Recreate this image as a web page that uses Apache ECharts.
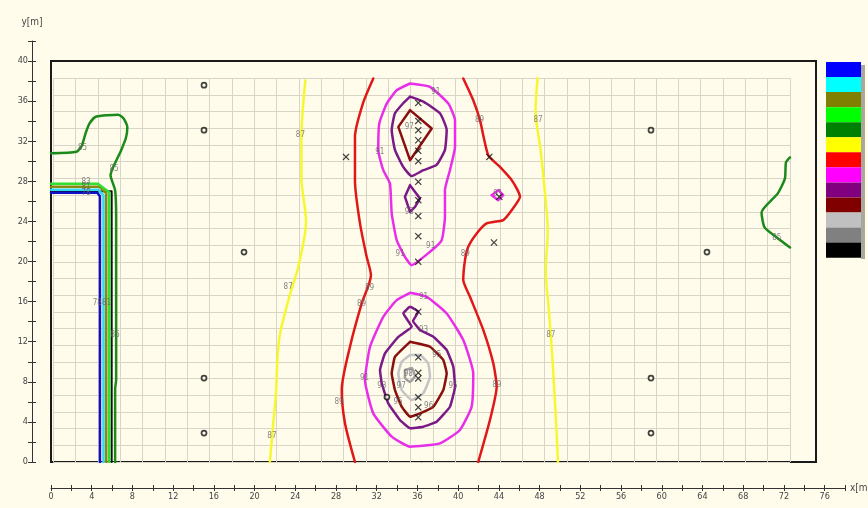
<!DOCTYPE html>
<html><head><meta charset="utf-8">
<script src="https://cdn.jsdelivr.net/npm/echarts@6/dist/echarts.min.js"></script>
<style>html,body{margin:0;padding:0;background:#fffcec}#c{width:868px;height:508px}</style>
</head><body><div id="c"></div>
<script>
// ---- data (metres) ----
const xTickLabels = [0,4,8,12,16,20,24,28,32,36,40,44,48,52,56,60,64,68,72,76];
const yTickLabels = [0,4,8,12,16,20,24,28,32,36,40];
const legendColors = ['#0000ff','#00ffff','#808000','#00ff00','#008000','#ffff00','#ff0000','#ff00ff','#800080','#800000','#c0c0c0','#808080','#000000'];

const building = [[0,27.0],[5.96,27.0],[5.96,0]];
const c75 = [[0,26.85],[4.55,26.85],[4.81,26.5],[4.81,0]];
const c78 = [[0,27.17],[4.65,27.17],[5.16,26.6],[5.16,0]];
const c81 = [[0,27.47],[4.75,27.47],[5.43,26.8],[5.43,0]];
const c83 = [[0,27.77],[4.6,27.77],[5.72,26.9],[5.72,0]];
const c85left = [[0,30.8],[2.5,30.95],[3.0,31.5],[3.4,32.8],[3.8,33.8],[4.4,34.45],[6.6,34.65],[7.15,34.25],[7.5,33.4],[7.35,32.3],[6.85,31.0],[5.85,28.6],[6.3,27.1],[6.4,24.3],[6.4,8.2],[6.3,7.3],[6.3,0]];
const c85right = [[72.6,30.4],[72.2,29.9],[72.1,28.3],[71.4,26.8],[69.8,24.9],[70.1,23.4],[71.3,22.4],[72.6,21.4]];
const c87left = [[24.99,38.08],[24.6,32.4],[24.6,28.4],[25.05,24.0],[24.3,19.5],[23.5,16.8],[22.5,12.8],[22.24,10.2],[22.1,6.85],[21.8,3.5],[21.5,0]];
const c87right = [[47.8,38.3],[47.6,35.1],[48.1,31.1],[48.5,27.1],[48.8,23.1],[48.6,19.1],[48.9,15.2],[49.2,11.2],[49.5,6.2],[49.7,2.2],[49.8,0]];
const c89left = [[31.66,38.26],[30.65,35.79],[29.86,32.43],[29.86,28.12],[30.35,23.83],[31.01,20.47],[31.43,18.64],[30.52,15.82],[29.37,11.5],[28.56,7.18],[28.88,3.86],[29.86,0]];
const c89right = [[40.5,38.26],[41.48,36.09],[42.14,34.1],[42.96,30.6],[44.11,29.44],[45.26,28.12],[46.07,26.45],[45.26,25.12],[44.43,24.13],[42.8,23.8],[41.82,22.8],[40.99,21.47],[40.67,20.14],[40.5,18.15],[41.16,16.48],[42.47,13.16],[43.45,9.84],[43.78,7.51],[43.12,4.19],[41.97,0]];
const c91upper = [[35.27,37.76],[37.23,37.42],[39.03,35.76],[39.69,34.1],[39.69,31.44],[39.19,29.11],[38.7,27.12],[38.7,24.46],[38.38,22.13],[37.23,20.97],[35.43,19.64],[34.77,20.47],[33.96,22.13],[33.47,24.8],[33.3,27.79],[32.64,29.11],[32.15,31.11],[32.25,33.77],[32.98,35.76],[33.96,37.09],[35.27,37.76]];
const c91small = [[43.29,26.62],[43.94,27.12],[44.43,26.62],[43.94,26.12],[43.29,26.62]];
const c91lower = [[35.27,16.88],[36.91,16.48],[38.87,14.82],[40.5,12.16],[41.48,8.84],[41.32,5.52],[40.17,3.19],[38.21,1.86],[35.27,1.53],[33.47,2.53],[31.66,4.85],[30.84,8.17],[31.34,11.5],[32.64,14.49],[33.96,16.15],[35.27,16.88]];
const c93upper = [[35.27,36.45],[36.58,35.95],[38.21,34.79],[38.87,33.13],[38.7,31.14],[37.88,29.64],[36.58,29.11],[35.43,28.52],[34.6,29.44],[33.79,31.14],[33.47,33.13],[33.79,34.79],[34.6,35.79],[35.27,36.45]];
const c93small = [[35.27,27.62],[36.25,26.29],[35.76,25.45],[35.27,24.95],[34.77,26.45],[35.27,27.62]];
const c93lower = [[36.25,13.16],[37.56,12.49],[38.87,11.17],[39.52,9.5],[39.69,7.51],[39.19,5.51],[37.89,4.02],[36.57,3.52],[35.27,3.36],[34.28,4.19],[33.13,5.85],[32.49,7.85],[32.32,9.17],[32.81,10.84],[34.12,12.49],[35.43,13.49],[34.61,14.83],[35.27,15.48],[36.08,14.99],[35.56,14.06],[36.25,13.16]];
const c95upper = [[35.27,35.1],[37.4,33.27],[35.27,30.11],[34.12,33.43],[35.27,35.1]];
const c95lower = [[35.27,11.99],[37.23,11.5],[38.54,10.17],[38.87,8.84],[38.54,7.18],[37.56,5.52],[36.25,4.85],[35.27,4.52],[34.45,5.52],[33.79,7.18],[33.47,8.84],[33.79,10.5],[35.27,11.99]];
const c97lower = [[35.27,10.67],[36.25,10.67],[37.06,9.84],[37.23,8.51],[36.57,6.85],[35.43,6.18],[34.45,7.18],[34.12,8.84],[34.45,10.0],[35.27,10.67]];
const c98lower = [[34.77,9.17],[35.46,9.37],[35.76,8.57],[35.27,7.98],[34.77,8.37],[34.77,9.17]];

const contourLabels = [
  [3.44,27.9,'83'],[3.44,27.4,'81'],[3.44,26.85,'78'],[4.55,15.9,'78'],[5.45,15.9,'81'],
  [3.1,31.3,'85'],[6.2,29.2,'85'],[6.3,12.7,'85'],[71.3,22.4,'85'],
  [24.5,32.6,'87'],[23.3,17.5,'87'],[21.7,2.6,'87'],[47.84,34.1,'87'],[49.1,12.7,'87'],
  [31.3,17.4,'89'],[30.5,15.8,'89'],[28.3,6.0,'89'],[42.1,34.1,'89'],[40.7,20.8,'89'],[43.8,7.7,'89'],
  [37.8,36.9,'91'],[32.3,30.9,'91'],[37.3,21.6,'91'],[34.3,20.8,'91'],[43.9,26.7,'91'],[36.6,16.5,'91'],[30.8,8.4,'91'],
  [35.2,24.9,'93'],[36.6,13.2,'93'],[32.5,7.6,'93'],
  [39.5,7.6,'95'],[37.9,10.7,'95'],[34.1,6.0,'95'],[37.1,5.6,'96'],
  [35.2,33.4,'97'],[34.4,7.6,'97'],[35.1,8.8,'98']
];
const circlePoints = [[15.03,37.59],[15.03,33.1],[18.96,20.94],[15.03,8.37],[15.03,2.89],[33.0,6.48],[58.94,33.1],[64.44,20.94],[58.94,8.37],[58.94,2.89]];
const crossPoints = [[28.98,30.44],[36.08,35.82],[36.08,34.03],[36.08,33.1],[36.08,32.1],[36.08,31.04],[36.08,30.01],[36.08,27.95],[36.08,26.12],[36.08,24.53],[36.08,22.53],[36.08,19.97],[43.06,30.44],[44.04,26.45],[43.52,21.9],[36.08,14.99],[36.08,10.44],[36.08,8.9],[36.08,8.34],[36.08,6.45],[36.08,5.45],[36.08,4.46]];

// inner calculation grid: number of cells
const gridCols = 33, gridRows = 23;

// ---- chart ----
const lineDefs = [
  {d: building, c:'#111111', w:2, s:false},
  {d: c75, c:'#1010c8', w:2.5, s:false},
  {d: c78, c:'#30d8f0', w:2.5, s:false},
  {d: c81, c:'#8a8a10', w:2.5, s:false},
  {d: c83, c:'#30e030', w:2.5, s:false},
  {d: c85left, c:'#1a8a1a', w:2.5, s:0.2},
  {d: c85right, c:'#1a8a1a', w:2.5, s:0.2},
  {d: c87left, c:'#f7f730', w:2.5, s:0.3},
  {d: c87right, c:'#f7f730', w:2.5, s:0.3},
  {d: c89left, c:'#e01818', w:2.5, s:0.25},
  {d: c89right, c:'#e01818', w:2.5, s:0.2},
  {d: c91upper, c:'#e82ee8', w:2.5, s:0.15},
  {d: c91small, c:'#e82ee8', w:2.5, s:false},
  {d: c91lower, c:'#e82ee8', w:2.5, s:0.15},
  {d: c93upper, c:'#7a1a86', w:2.5, s:0.15},
  {d: c93small, c:'#7a1a86', w:2.5, s:false},
  {d: c93lower, c:'#7a1a86', w:2.5, s:0.1},
  {d: c95upper, c:'#8a1010', w:2.5, s:false},
  {d: c95lower, c:'#8a1010', w:2.5, s:0.1},
  {d: c97lower, c:'#c4c4c4', w:2.5, s:0.1},
  {d: c98lower, c:'#a0a0a0', w:2.5, s:0.1}
];

const series = lineDefs.map(l => ({
  type:'line', xAxisIndex:0, yAxisIndex:0, data:l.d, showSymbol:false, symbol:'none',
  smooth:l.s, silent:true, z:3,
  lineStyle:{color:l.c, width:l.w, cap:'round', join:'round'}
}));
series.push({
  type:'scatter', xAxisIndex:0, yAxisIndex:0, data:contourLabels, symbolSize:0, silent:true, z:4,
  label:{show:true, position:'inside', formatter:p=>p.value[2], fontSize:8,
         fontFamily:"'Liberation Sans Narrow','DejaVu Sans Condensed',Arial,sans-serif", color:'#666'}
});
series.push({
  type:'scatter', xAxisIndex:0, yAxisIndex:0, data:circlePoints, symbol:'circle', symbolSize:5, silent:true, z:5,
  itemStyle:{color:'#fffcec', borderColor:'#111', borderWidth:1.7}
});
series.push({
  type:'scatter', xAxisIndex:0, yAxisIndex:0, data:crossPoints, silent:true, z:5,
  symbol:'path://M0,1.2L1.2,0L5,3.8L8.8,0L10,1.2L6.2,5L10,8.8L8.8,10L5,6.2L1.2,10L0,8.8L3.8,5Z',
  symbolSize:7, itemStyle:{color:'#111'}
});

const font = "'Liberation Sans Narrow','DejaVu Sans Condensed',Arial,sans-serif";
const legendChildren = legendColors.map((c,i)=>({
  type:'rect', shape:{x:0, y:i*15.05, width:35, height:15.05}, style:{fill:c}
}));

const option = {
  animation:false,
  backgroundColor:'#fffcec',
  grid:[
    {left:51, right:23, top:41, bottom:46, outerBoundsMode:'none', containLabel:false},
    {left:51, right:52, top:61, bottom:46, outerBoundsMode:'none', show:true, borderColor:'#1a1a1a', borderWidth:2, backgroundColor:'transparent'},
    {left:53.4, right:78, top:78.3, bottom:46, outerBoundsMode:'none'}
  ],
  xAxis:[
    {gridIndex:0, type:'value', position:'bottom', min:0, max:78, interval:2, offset:26,
     axisLine:{onZero:false, lineStyle:{color:'#333', width:1}}, axisTick:{length:3, lineStyle:{color:'#333'}},
     axisLabel:{margin:4, fontSize:9, color:'#444', fontFamily:font,
       formatter:v=> xTickLabels.includes(v) ? String(v) : ''},
     splitLine:{show:false},
     name:'x[m]', nameLocation:'end', nameGap:5,
     nameTextStyle:{fontSize:10, color:'#444', fontFamily:font, align:'left', verticalAlign:'middle'}},
    {gridIndex:0, type:'value', position:'bottom', min:0, max:78, interval:2, offset:26,
     axisLine:{show:false, onZero:false}, axisTick:{inside:true, length:3, lineStyle:{color:'#333'}},
     axisLabel:{show:false}, splitLine:{show:false}},
    {gridIndex:1, type:'value', min:0, max:1, show:false},
    {gridIndex:2, type:'value', min:0, max:gridCols, interval:1,
     axisLine:{show:false}, axisTick:{show:false}, axisLabel:{show:false},
     splitLine:{show:true, lineStyle:{color:'#d8d4c6', width:1}}}
  ],
  yAxis:[
    {gridIndex:0, type:'value', position:'left', min:0, max:42, interval:2, offset:19,
     axisLine:{show:true, onZero:false, lineStyle:{color:'#333', width:1}}, axisTick:{show:true, length:4, lineStyle:{color:'#333'}},
     axisLabel:{margin:4, fontSize:9, color:'#444', fontFamily:font,
       formatter:v=> yTickLabels.includes(v) ? String(v) : ''},
     splitLine:{show:false},
     name:'y[m]', nameLocation:'end', nameGap:14,
     nameTextStyle:{fontSize:10, color:'#444', fontFamily:font, align:'center'}},
    {gridIndex:0, type:'value', position:'left', min:0, max:42, interval:2, offset:19,
     axisLine:{show:false, onZero:false}, axisTick:{show:true, inside:true, length:4, lineStyle:{color:'#333'}},
     axisLabel:{show:false}, splitLine:{show:false}},
    {gridIndex:1, type:'value', min:0, max:1, show:false},
    {gridIndex:2, type:'value', min:0, max:gridRows, interval:1,
     axisLine:{show:false}, axisTick:{show:false}, axisLabel:{show:false},
     splitLine:{show:true, lineStyle:{color:'#d8d4c6', width:1}}}
  ],
  graphic:[
    {type:'rect', left:861, top:65, shape:{width:4, height:194}, style:{fill:'#aaa89e'}, z:1},
    {type:'group', left:826, top:62, children:legendChildren, z:2}
  ],
  series
};
const chart = echarts.init(document.getElementById('c'), null, {renderer:'canvas'});
chart.setOption(option);
</script>
</body></html>
